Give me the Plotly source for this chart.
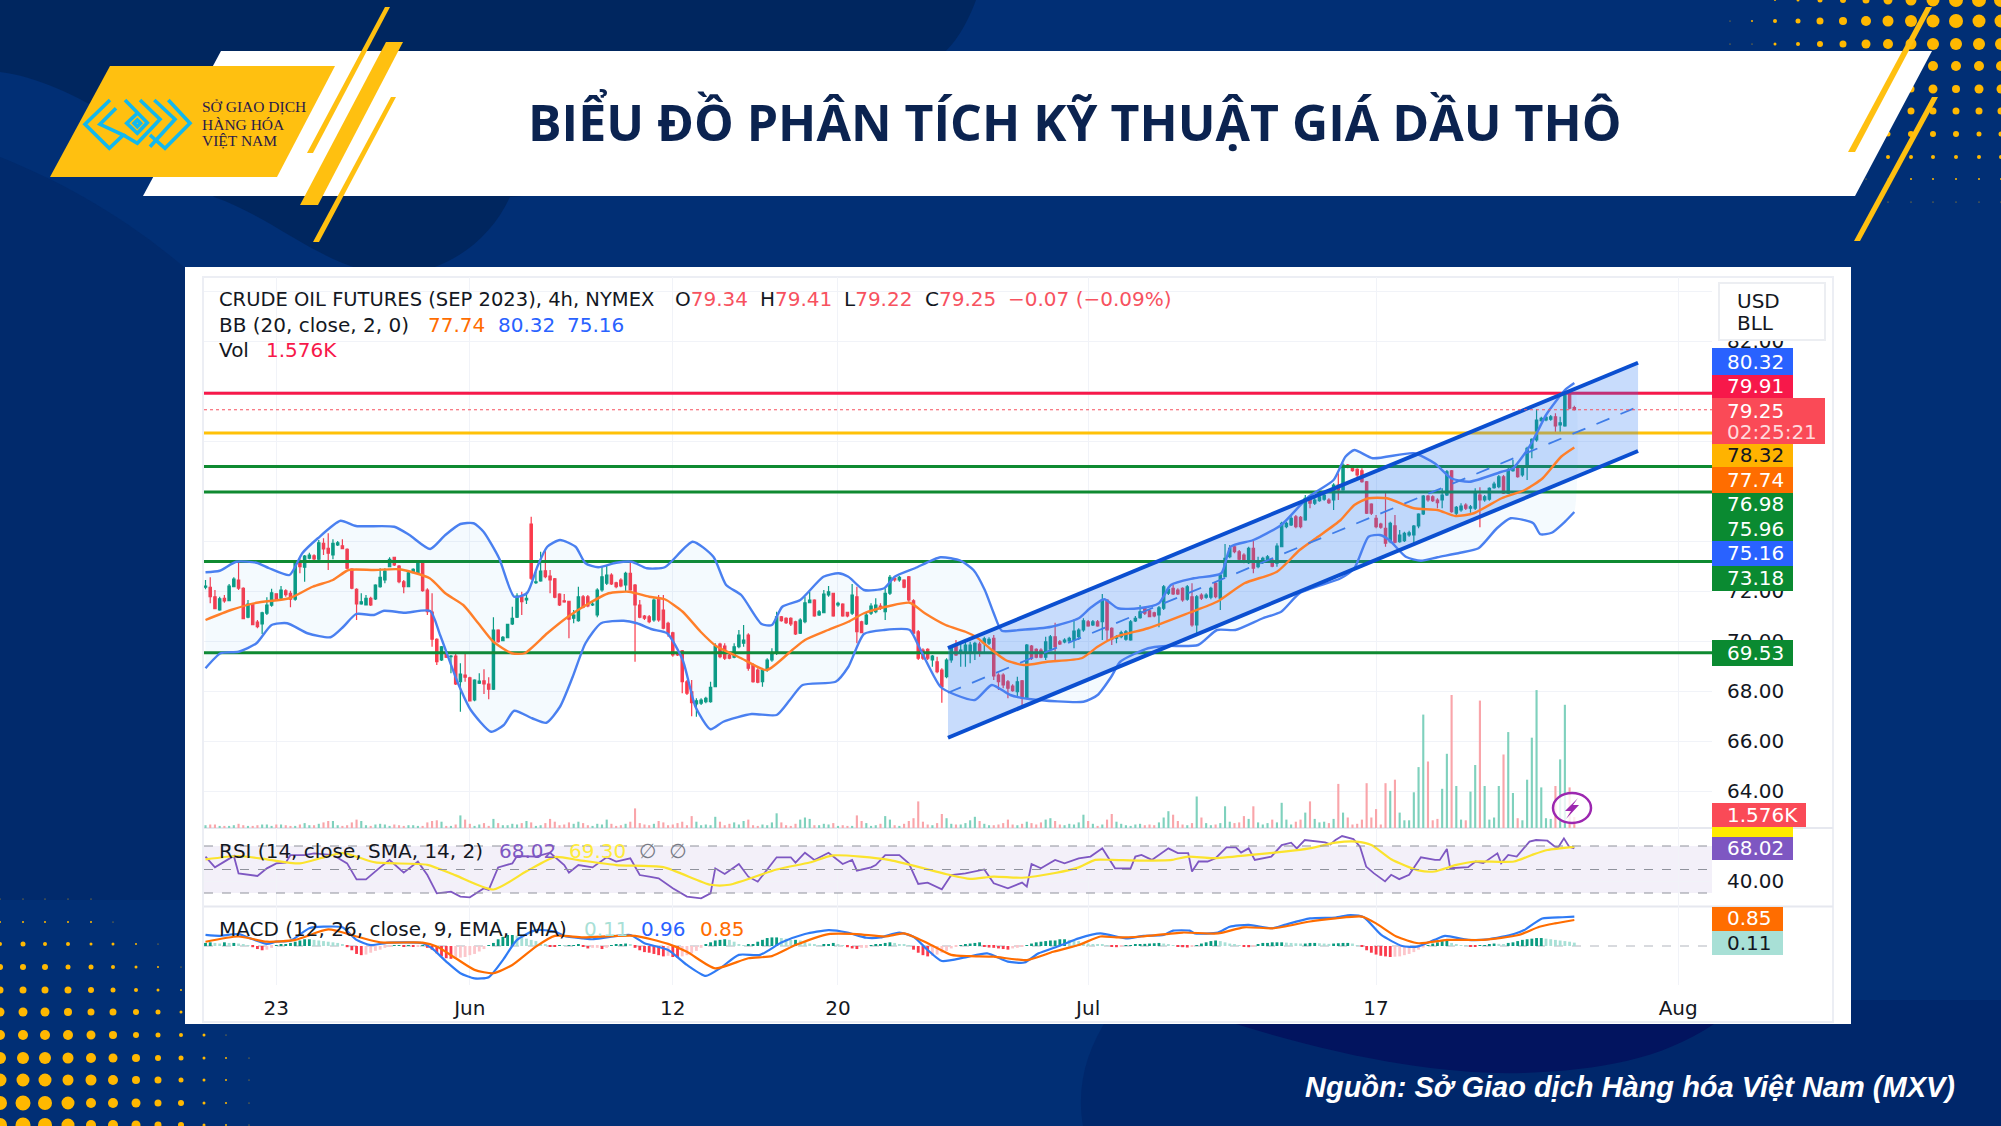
import plotly.graph_objects as go
import re

# ---------- chart data ----------
opens = [72.15,72.15,71.77,71.24,71.71,71.61,72.17,72.44,72.11,70.95,
71.48,70.76,70.68,71.11,71.43,71.89,71.71,72.01,71.91,71.67,
73.17,72.95,73.31,73.41,73.27,73.91,73.71,73.44,73.84,73.81,
73.67,72.88,72.07,71.48,71.44,71.71,71.68,72.17,72.44,72.97,
73.35,73.0,72.37,72.17,72.73,72.73,73.13,72.04,71.16,70.07,
69.24,69.57,69.37,69.4,68.37,68.64,68.53,67.64,68.31,68.41,
68.28,68.07,70.44,70.01,70.13,70.68,70.95,71.77,71.64,74.68,
72.33,72.4,72.81,72.6,72.49,71.88,71.61,71.59,
70.91,70.81,71.77,71.77,71.44,71.04,72.04,72.31,72.64,72.33,72.44,72.24,72.71,72.24,71.44,71.0,70.97,70.84,71.67,71.24,70.71,70.33,
69.53,69.61,68.37,67.97,67.48,67.51,67.57,67.57,68.17,69.88,69.8,69.44,69.35,69.77,69.91,70.24,69.04,68.84,68.37,68.87,
69.24,69.51,70.97,70.91,70.91,70.77,70.31,70.77,71.53,71.64,71.04,71.13,71.84,71.91,71.44,71.48,71.15,71.11,71.77,70.77,
70.68,71.11,71.17,71.4,71.17,71.91,72.51,72.44,72.44,72.57,71.61,70.37,69.64,69.67,69.24,69.17,68.84,68.57,
69.24,69.84,69.51,69.51,69.51,69.57,69.88,69.91,69.91,70.11,68.64,68.64,68.37,68.2,67.97,68.41,67.71,69.8,69.67,69.64,
69.35,69.67,70.17,69.97,69.96,70.0,70.04,70.17,70.44,70.77,70.64,70.77,70.77,71.64,70.51,70.11,70.17,70.07,70.04,70.8,
70.93,71.31,71.21,71.13,71.04,71.31,71.91,72.11,72.04,72.11,71.67,71.77,70.64,71.84,71.75,71.75,72.31,71.71,72.57,73.37,
73.77,73.57,73.44,73.13,73.71,72.97,73.17,73.24,73.24,73.11,
73.77,74.57,74.64,74.97,74.95,74.84,75.71,75.51,75.61,75.67,75.64,75.64,76.24,76.04,77.04,76.95,76.87,76.81,76.37,75.48,
74.91,74.68,74.51,73.97,74.61,73.97,74.01,74.24,74.24,74.6,75.08,75.8,75.77,75.64,75.64,75.84,76.81,75.11,75.24,75.44,
75.31,75.31,75.84,75.64,75.67,76.13,76.17,76.57,75.91,76.81,76.97,76.64,76.95,77.71,78.04,78.81,78.84,78.87,78.97,78.64,
78.6,79.88,79.34]
highs = [72.44,72.55,72.04,71.77,71.84,72.28,72.55,73.17,72.15,71.64,
71.51,70.84,71.17,71.75,72.09,71.91,72.2,72.07,72.01,73.17,
73.31,73.44,73.53,73.47,74.04,74.11,74.31,74.07,74.0,74.07,
73.71,72.91,72.11,71.91,71.84,71.77,72.27,72.91,72.91,73.35,
73.37,73.04,72.44,72.81,72.91,73.13,73.17,72.11,71.91,70.11,
69.8,69.64,69.44,69.48,69.11,69.48,68.57,68.47,68.71,68.87,
68.55,70.95,70.47,70.2,70.68,71.37,71.91,71.97,71.97,74.97,
72.77,73.57,73.64,72.84,72.52,71.91,71.88,71.61,
71.24,72.17,71.84,71.84,71.57,72.11,72.97,73.04,72.71,72.37,72.51,72.77,73.17,72.28,71.64,71.04,71.04,71.71,71.84,71.84,70.77,70.37,
69.57,69.64,68.44,68.44,67.71,67.71,67.77,68.37,69.91,69.93,69.91,69.51,69.91,70.44,70.64,70.31,69.11,68.91,68.91,69.31,
69.71,71.17,71.0,70.95,70.95,70.81,70.91,71.77,71.97,71.67,71.24,72.04,72.2,71.93,71.57,71.51,71.17,72.28,72.17,70.81,
71.17,71.51,71.71,71.51,72.11,72.64,72.6,72.6,72.47,72.6,71.67,70.44,69.71,69.71,69.44,69.37,68.91,69.31,
69.77,70.04,69.91,69.97,69.97,69.97,69.97,70.17,70.15,70.24,68.71,68.71,68.44,68.27,68.57,68.44,69.88,69.84,69.71,69.71,
70.17,70.24,70.73,70.04,70.11,70.17,70.87,70.51,70.91,70.84,70.84,70.84,71.88,71.67,70.55,70.24,70.41,70.44,70.84,71.0,
71.44,71.37,71.27,71.17,71.4,72.24,72.17,72.24,72.11,72.15,72.24,72.31,71.84,71.91,71.91,72.17,72.37,72.71,73.88,73.84,
73.84,73.64,73.51,73.77,74.07,73.37,73.37,73.44,73.31,73.91,
74.77,74.77,75.0,75.04,75.0,75.84,75.84,75.75,75.84,75.91,75.71,76.31,76.71,77.11,77.08,77.0,76.91,76.91,76.4,75.51,
75.04,74.73,75.97,74.77,75.04,74.44,74.37,74.41,74.64,75.11,75.84,75.84,75.83,75.71,76.11,76.84,76.84,75.4,75.51,75.51,
75.44,76.11,76.15,75.84,76.15,76.37,76.64,76.64,77.04,77.24,77.04,77.04,77.77,78.11,79.27,78.97,79.0,79.04,79.11,78.97,
79.93,79.91,79.41]
lows = [72.07,71.51,71.27,71.21,71.53,71.6,72.15,72.04,70.87,70.91,
70.63,70.51,70.28,71.04,71.37,71.61,71.68,71.77,71.35,71.61,
72.71,72.37,73.27,73.24,73.21,73.44,72.84,73.27,73.8,73.67,
72.87,72.07,70.84,71.45,71.43,71.4,71.64,72.13,72.31,72.95,
73.0,72.31,71.91,72.15,72.71,72.68,71.97,71.04,69.77,69.04,
69.2,69.32,68.71,68.24,67.17,68.37,67.59,67.59,68.28,67.88,
67.67,68.04,69.93,69.99,70.11,70.64,70.92,71.04,71.48,72.44,
72.28,72.37,72.51,71.91,71.71,71.4,71.53,70.11,
70.71,70.77,71.31,71.35,71.4,70.95,71.97,72.24,72.24,72.11,72.15,71.97,72.01,69.17,70.91,70.84,70.71,70.77,70.77,70.47,70.17,69.37,
69.4,67.91,67.84,66.99,66.97,67.44,67.51,67.53,68.15,69.31,69.24,69.27,69.31,69.71,69.77,68.81,68.33,68.31,68.17,68.77,
69.17,69.44,70.77,70.68,70.6,70.24,70.28,70.71,71.51,70.97,71.0,71.11,71.77,70.97,71.37,70.97,70.95,71.04,69.91,70.31,
70.64,71.04,71.11,71.24,70.84,71.84,72.37,72.37,72.11,71.57,70.24,69.24,69.24,69.24,68.97,68.71,67.53,68.51,
69.13,69.4,68.97,68.97,69.11,69.24,69.37,69.51,69.84,68.44,68.04,68.11,67.71,67.97,67.77,67.37,67.67,69.24,69.31,69.31,
69.24,69.61,69.17,69.84,69.91,69.96,69.71,70.04,70.37,70.57,70.6,70.57,70.04,70.04,69.84,69.91,70.11,70.01,70.01,70.76,
70.89,71.04,70.95,70.95,70.55,71.24,71.84,71.84,71.84,71.57,71.61,70.57,70.31,71.64,71.69,71.67,71.71,71.24,72.55,73.31,
73.51,73.21,73.11,73.08,72.71,72.91,73.08,73.17,72.95,72.97,
73.75,74.51,74.6,74.51,74.51,74.81,75.31,75.44,75.57,75.61,75.48,75.24,75.64,76.01,76.91,76.77,76.44,76.33,75.08,75.04,
74.51,74.49,73.77,73.91,73.91,73.93,73.96,74.17,73.84,74.51,75.04,75.57,75.56,75.31,75.31,75.8,75.13,75.04,75.17,75.24,
75.13,75.24,74.55,75.57,75.61,76.09,76.11,75.88,75.88,76.77,76.53,76.57,76.44,77.31,77.97,78.77,78.79,78.81,78.31,78.31,
78.57,79.27,79.22]
closes = [72.2,71.77,71.29,71.69,71.6,72.2,72.48,72.11,70.89,71.48,
70.65,70.57,71.13,71.44,71.93,71.67,72.04,71.85,71.67,73.11,
72.97,73.4,73.44,73.28,73.93,73.68,73.51,73.91,73.93,73.69,
72.91,72.11,71.48,71.57,71.71,71.44,72.24,72.55,72.8,73.27,
73.04,72.37,72.17,72.73,72.87,73.11,72.01,71.17,70.07,69.17,
69.77,69.35,69.4,68.28,68.68,68.55,67.6,68.44,68.4,68.28,
68.07,70.44,69.97,70.15,70.67,70.91,71.8,71.57,71.71,72.51,
72.37,72.8,72.57,72.44,71.75,71.44,71.56,70.87,
71.04,71.77,71.35,71.4,71.48,72.04,72.57,72.64,72.28,72.17,72.2,72.71,72.04,71.44,70.95,70.91,70.77,71.64,70.84,70.51,70.31,69.44,
69.44,68.37,67.91,67.53,67.61,67.64,67.71,68.15,69.8,69.37,69.31,69.31,69.77,70.24,70.04,68.91,68.37,68.35,68.84,69.24,
69.51,70.97,70.81,70.73,70.68,70.28,70.84,71.53,71.64,71.0,71.17,71.88,71.97,71.0,71.51,71.0,71.0,71.84,70.37,70.33,
71.04,71.4,71.44,71.31,71.91,72.55,72.44,72.55,72.15,71.64,70.31,69.31,69.31,69.31,69.4,68.77,68.17,69.24,
69.71,69.44,69.64,69.84,69.84,69.91,69.51,70.09,70.07,68.6,68.37,68.24,68.11,68.01,68.37,67.71,69.84,69.31,69.35,69.35,
69.97,70.17,69.77,69.88,70.04,70.11,70.4,70.44,70.81,70.6,70.77,70.6,71.64,70.44,70.07,70.17,70.33,70.37,70.77,70.91,
71.17,71.11,70.97,71.0,71.33,72.17,72.07,71.88,71.88,71.64,72.17,70.64,71.77,71.71,71.84,72.11,71.77,72.64,73.31,73.71,
73.57,73.27,73.17,73.71,72.91,73.17,73.31,73.37,72.99,73.8,
74.71,74.71,74.91,74.57,74.57,75.71,75.51,75.64,75.77,75.84,75.53,76.24,76.04,77.04,76.95,76.81,76.64,76.37,75.11,75.11,
74.57,74.55,73.91,74.71,73.95,74.24,74.31,74.33,74.6,75.08,75.8,75.64,75.61,75.53,75.84,76.77,75.17,75.35,75.4,75.31,
75.37,75.97,75.64,75.77,76.11,76.28,76.57,75.91,76.84,76.95,76.57,76.97,77.71,78.07,78.84,78.91,78.95,78.97,78.6,78.73,
79.88,79.31,79.25]
volumes = [.4,.5,.5,.3,.3,.3,.4,.6,.4,.3, .3,.4,.5,.5,.3,.5,.5,.4,.3,.3,
.5,.7,.4,.4,.6,.8,1,1,.4,.3, .4,.8,1.2,1,.4,.3,.5,.6,.5,.3,
.5,.4,.3,.4,.4,.3,.3,.8,1,1.1, .9,.3,.3,.5,1.8,1.2,.6,.3,.5,.7,
.3,1.3,.7,.4,.4,.6,.5,.7,1,.8, .3,.4,.7,1.3,.9,.4,.5,.8,.6,.9,
.7,.4,.3,.6,.5,1.2,.6,.3,.4,.6, .9,2.8,.7,.5,.4,.6,1,.8,.4,.5,
.7,.9,.4,1.7,.9,.4,.5,.4,1.6,.9, .4,.6,.8,.5,1,1.2,.4,.3,.5,.4,
.8,2.1,.8,.4,.3,.6,1.2,1.5,1.3,.4, .4,.6,.5,.7,.3,.4,.3,.3,1.8,1,
.7,.3,.4,.6,1.7,1.2,.4,.3,.6,1, 1.4,3.8,.9,.5,.4,.7,2,1.4,.6,.5,
.5,.7,1.1,1.6,1,.6,.4,.4,.5,.7, 1.2,.5,.4,.6,.9,.7,.5,.8,1.2,1.4,
1,.5,.4,.6,.5,.8,1.9,1,.6,.3, .5,1.2,2,.9,.6,.4,.3,.5,.6,.4,
.5,.4,.8,1.5,2.4,1.9,1,.5,.4,.7, 4.5,1.5,.7,.4,.5,.7,3.1,.9,.7,.8,
1.7,1.3,3.1,.8,.5,.7,1.2,.8,3.6,1.2, .5,.9,1.2,2.2,3.8,1.3,.8,.9,.7,1.3,
6.3,2.2,1.5,.5,.6,1.2,6.4,1.5,2.7,.5, 6.4,5.3,6.9,2.2,1.1,1.1,5.1,8.7,16.2,9.5,
1.1,1.3,5.6,10.6,19,6,1.2,1.1,5.2,9, 18.2,6,1.2,1.5,6,10.5,13.7,5,1.4,1.1,
6.9,12.9,19.7,5.8,1.4,1.3,6,9.8,17.6,5.8, 1.576]

bb_up_i = [0,3,6.5,10.8,13.5,17.8,20.5,23.8,28.6,31.9,40,43.2,47.6,50.8,54,56.8,58.9,62.2,65.4,68.1,70.3,72.4,75.1,78.4,80.5,83.2,87,90.3,93.5,97.3,103.2,107.6,110.3,113.5,117.8,120,122.2,126,130.9,134.1,136.2,139.5,143.8,146,150.3,155.7,160,162.7,165.1,167,168.7,172.4,179.2,185,187.4,190.4,193.3,197.7,202,204.5,209.4,215.2,217.2,222,227.9,233.7,239,241.5,243.4,247.3,256,260.4,263.9,267.8,274.6,277,279.5,281.3,284,286.3,288,290]
bb_up = [72.75,72.81,73.17,73.13,72.91,72.64,73.51,74.11,74.81,74.6,74.57,74.24,73.68,74.24,74.68,74.71,74.37,73.31,71.77,71.91,72.97,73.77,74.04,73.77,73.11,72.95,73.13,73.17,72.91,72.95,73.97,73.37,72.24,71.84,70.68,70.64,71.37,71.64,72.57,72.71,72.57,72.04,72.11,72.57,72.91,73.35,73.21,72.84,72.04,71.11,70.41,70.44,70.57,70.91,71.31,71.67,71.31,71.31,71.51,72.24,72.51,72.71,73.77,74.04,74.64,75.77,76.44,77.37,77.64,77.31,77.51,77.11,76.51,76.37,76.77,76.91,77.5,78.04,79.04,79.64,80.04,80.32]
bb_lo_i = [0,3.2,7,10.8,14,17.3,21.6,26.5,29.2,31.9,35.7,37.8,42.2,47.6,49.7,53.5,56.2,60.5,63.2,65.4,69.2,72.2,75.1,77.8,80.5,83.8,88.6,91.4,94.6,97.8,101.1,103.8,107,109.7,115.7,121,123.8,126.5,133.5,136.2,139.5,143.8,149.2,150.8,155.7,159,163,166.6,170.5,174.9,186,189,191.9,193.8,199.7,203.6,210.3,214.3,218.2,224,227.9,231.8,240.5,243.4,246.4,248.8,250.8,254.3,257.5,261,265.8,269.7,273.6,276.5,281.3,282.8,285.2,288,290]
bb_lo = [68.91,69.51,69.57,69.91,70.64,70.71,70.31,70.15,70.57,71.08,71.04,71.21,71.13,71.2,70.24,68.31,67.24,66.37,66.64,67.21,66.91,66.73,67.37,68.57,69.91,70.71,70.81,70.71,70.47,70.31,69.24,67.37,66.47,66.77,67.08,67.04,67.64,68.24,68.37,68.97,70.28,70.44,70.44,69.91,68.17,67.84,67.64,68.24,67.84,67.67,67.57,67.84,68.57,69.17,69.71,69.8,69.84,70.44,70.44,70.91,71.17,71.91,72.51,72.91,74.17,74.24,74.04,73.37,73.21,73.35,73.53,73.71,74.51,74.91,74.71,74.27,74.33,74.77,75.16]
bb_mid_i = [0,5.4,10.8,17.8,22.7,27,30.3,35.7,41.1,47.5,50.8,54.6,57.8,61,64.9,67.6,72.4,76.8,81,85.4,89.7,94,97.3,101.1,104.9,108.1,113.5,118.9,124.3,127,131.9,136.2,139.5,144.9,149.2,152.4,156.8,161,163.2,166.6,169.5,173.4,178.3,185.6,189,192.9,199.7,208.4,214.3,220.1,227,231.8,235.7,240.5,243.4,246.4,250.3,256,261,264.8,268.7,274.6,279.5,283.3,287.2,290]
bb_mid = [70.84,71.24,71.53,71.71,72.17,72.44,72.84,72.84,72.87,72.51,71.91,71.44,70.71,69.97,69.51,69.51,70.31,70.97,71.48,71.91,71.97,71.77,71.67,71.17,70.37,69.81,69.31,68.84,69.64,70.04,70.44,70.77,71.11,71.4,71.53,71.11,70.64,70.37,70.17,69.64,69.24,69.04,69.17,69.31,69.77,70.17,70.51,71.13,71.57,72.31,72.77,73.64,74.17,74.84,75.44,75.71,75.71,75.31,75.24,75,75.11,75.71,76.04,76.51,77.37,77.74]

rsi_i = [0,2,4,6,7,9,11,13,15,17,18,21,23,27,30,32,34,37,39,42,45,47,49,52,54,56,59,60,62,65,66,70,73,76,77,79,82,85,87,90,92,94,96,99,102,105,107,108,110,113,115,117,121,124,125,127,129,132,135,137,138,141,142,144,147,149,151,153,156,158,161,165,167,170,173,174,175,177,180,182,185,187.5,190,192.7,196,197,198.3,200.5,204,206,208.2,209,210.4,212.3,214,216.3,218.3,219.4,221,222.3,225.8,228,230,231.2,232.9,237.2,238.3,239.4,240.8,243.2,244.6,245.9,247.5,249.9,251.2,252.9,255,257.5,260.5,261.5,263,263.7,267.5,269.1,270.7,273.7,274.5,276,277.8,280.5,281.9,284.3,285.9,286.6,287.8,288.9,290]
rsi = [60.9,51.8,56.7,61.5,46.7,45.3,44.5,51,55.2,55.8,62.3,62.3,63.8,62.3,55.2,41.6,41.6,51.8,58.1,47.3,56.7,45.3,29.7,31.1,26.9,26.3,34,32.6,51.8,55.2,61.5,60.9,64.3,53.8,47.3,53.8,51.8,60.4,56.7,59.5,45.3,43.9,42.5,34,26.9,25.5,29.7,51,46.2,54.7,43.9,39.6,60.4,60.4,55.8,64.3,58.1,64.3,54.7,58.1,49,51.8,53.8,62.3,62.3,55.2,37.7,38.8,33.1,45.3,46.7,50.1,38.2,34,38.8,35.4,54.7,51,58.1,55.2,59.5,61,68,51,51,61,62.4,58.2,68,64,64,48.3,56.8,56.8,59.6,68.9,68.9,64.4,68,58.2,61,70.8,72.8,68,75.1,73.1,71.4,75.1,78.5,75.9,69.4,52.5,46.9,39.9,45.5,41.8,45.5,60.4,58.2,58.2,67.5,51.1,52,56.8,55.4,63.8,55.4,62.4,61,73.7,75.1,74.5,69.4,68.9,76.5,69.4,68.02]
rsi_ma_i = [0,7,13,20,29,36,47,53,61,68,74,79,87,97,107,111,121,128,133,145,157,162,167,173,180,185,188.5,192,198.3,204.8,208.2,213.4,221.5,228.5,233.9,239.4,243.8,247,251.2,257,260.4,265,269,277.2,281,284.3,290]
rsi_ma = [58.6,61.5,58.6,55.2,64,56,54,45,33,48.5,60.6,58,53.8,52,37,37,50,56,62,58,46,42,44,43,47,51.8,58.2,58.2,57.6,58.2,61,59.6,62.4,65.2,68,72.8,73.7,70.8,58.7,49.2,48.3,53.9,56.8,56.8,62.4,66.6,69.3]
macd_i = [0,3,7,10,13,15,18,22,25,29,32,35,39,46,48,51,54,57,60,63,66,70,74,76,80,82,85,90,93,98,102,106,109,113,117.5,122,127,132,136,140,143,147,150,153,156,161,165.6,170,173.5,176.5,181,185,189.6,195,198.8,203,205,208.5,209.6,214.5,217,221,226,228.6,234,239.4,242.6,245.4,249.1,253.5,256.7,260.4,262.6,267.5,271.8,277.2,279.4,283.2,287.5,290]
macd = [.36,.33,.39,.22,.07,.14,.17,.58,.63,.61,.2,.03,.11,.09,-.08,-.51,-.89,-1.06,-1.02,-.46,.2,.52,.47,.33,.25,.22,.28,.36,.09,-.13,-.62,-.98,-.73,-.29,-.29,.11,.39,.52,.44,.27,.28,.44,.3,-.13,-.49,-.37,-.24,-.51,-.54,-.24,.01,.25,.41,.25,.33,.36,.5,.5,.41,.44,.63,.69,.58,.69,.9,.93,1.01,.94,.36,0,-.02,.2,.33,.2,.22,.39,.52,.9,.94,.96]
signal_i = [0,7,13,19,26,32,37,46,49,53,57,61,65,70,74,80,91,98,102,108,115,120,125,132,138,144,148,153,158,162,167,174,179.6,185,189.6,193,198.3,207,214.5,220,226.4,234,239.4,245,248,252.3,257,263,270.7,278.2,282.6,285.9,290]
signal = [.14,.31,.14,.2,.54,.31,.12,.11,-.02,-.4,-.78,-.89,-.62,-.02,.33,.28,.33,.07,-.19,-.73,-.4,-.33,.03,.39,.39,.31,.41,.09,-.29,-.33,-.35,-.46,-.19,.03,.31,.28,.31,.44,.41,.61,.58,.8,.9,.96,.74,.31,.09,.2,.2,.36,.63,.74,.85]
hist = [.1,.12,.1,.08,.12,.1,.1,.08,.06,.02, -.04,-.1,-.14,-.12,-.06,.02,.04,.06,.1,.14,
.18,.22,.22,.2,.18,.16,.14,.12,.1,.06, -.04,-.14,-.26,-.3,-.28,-.22,-.16,-.12,-.06,-.02,
.02,.03,-.02,.02,-.03,-.02,.02,-.06,-.12,-.24, -.34,-.4,-.42,-.4,-.38,-.36,-.3,-.26,-.18,-.1,
.02,.1,.22,.3,.36,.36,.34,.3,.24,.2, .16,.1,.04,-.02,-.03,.03,.02,.02,.03,.05,
-.03,-.08,-.06,-.06,-.1,-.06,.03,.04,.06,.08, .05,-.06,-.14,-.2,-.22,-.26,-.3,-.34,-.32,-.36,
-.38,-.34,-.3,-.24,-.16,-.06,.04,.12,.18,.2, .22,.2,.14,.06,.03,.04,.06,.14,.2,.26,
.28,.28,.26,.24,.2,.2,.18,.14,.08,.04, .02,.04,.06,.1,.06,.02,-.04,-.08,-.1,-.06,
-.06,.03,.04,.06,.1,.12,.1,.06,.04,.03, -.12,-.22,-.3,-.34,-.32,-.28,-.22,-.16,-.08,-.02,
.02,.04,.08,.1,.12,-.03,-.05,-.06,-.08,-.1, -.12,-.08,-.06,-.03,.02,.08,.12,.14,.16,.18,
.18,.22,.22,.2,.18,.16,.1,.08,.06,.05, .04,.02,-.02,-.04,-.03,.02,.03,.05,.06,.07,
.08,.09,.1,.08,.05,.03,-.02,-.04,-.05,-.03, .03,.08,.12,.16,.18,.16,.12,.08,.06,.03,
-.02,-.04,-.03,.06,.1,.1,.12,.12,.12,.11, .1,.09,.08,.08,.1,.1,.09,.08,.07,.08,
.09,.1,.1,.08,.03,-.02,-.14,-.22,-.28,-.32, -.34,-.36,-.35,-.34,-.3,-.26,-.2,-.12,-.05,.03,
.08,.12,.16,.18,.1,.06,.03,.02,-.02,-.03, .02,.03,.06,.08,.07,.06,.1,.12,.16,.2,
.22,.24,.26,.26,.24,.22,.2,.18,.16,.14, .11]

levels_green = [76.98, 75.96, 73.18, 69.53]
level_red = 79.91
level_yellow = 78.32
last_price = 79.25
channel_i = [157.3, 303.5]
channel_top = [69.72, 81.13]
channel_mid = [67.93, 79.37]
channel_bot = [66.13, 77.6]
x_ticks = [15, 56, 99, 134, 187, 248, 312]
x_labels = ["23", "Jun", "12", "20", "Jul", "17", "Aug"]
price_ticks = [64,66,68,70,72,74,76,78,80,82,84]
price_labels = ["64.00","66.00","68.00","70.00","72.00","","","","","82.00",""]

assert len({len(opens),len(highs),len(lows),len(closes),len(volumes),len(hist)})==1
bars = list(range(len(closes)))

# ---------- pixel helpers for the page furniture ----------
W, H = 2001, 1126
def X(x): return x / W
def Y(y): return 1 - y / H
def path(d):
    toks = re.findall(r"[MLCZ]|-?\d+\.?\d*", d); out=[]; isx=True
    for t in toks:
        if t in "MLCZ": out.append(t); isx=True
        else:
            out.append(f"{X(float(t)):.5f}" if isx else f"{Y(float(t)):.5f}"); isx=not isx
    return " ".join(out)
def pshape(d, fill=None, line=None, w=0, layer="below"):
    return dict(type="path", path=path(d), xref="paper", yref="paper", fillcolor=fill or "rgba(0,0,0,0)",
                line=dict(color=line or "rgba(0,0,0,0)", width=w), layer=layer)
def rect(x0,y0,x1,y1,fill,layer="above",line=None,w=0):
    return dict(type="rect", xref="paper", yref="paper", x0=X(x0), x1=X(x1), y0=Y(y0), y1=Y(y1), fillcolor=fill,
                line=dict(color=line or "rgba(0,0,0,0)", width=w), layer=layer)
def ann(x,y,text,size=18,color="#131722",anchor="left",family="DejaVu Sans"):
    return dict(xref="paper",yref="paper",x=X(x),y=Y(y),text=text,showarrow=False,xanchor=anchor,yanchor="middle",
                font=dict(family=family,size=size,color=color),align="left")
def dots(xs, rows):
    out=[]
    for y,(start,sizes) in rows.items():
        for k,d in enumerate(sizes):
            if d:
                cx=xs[start+k]
                out.append(dict(type="circle",xref="paper",yref="paper",x0=X(cx-d/2),x1=X(cx+d/2),y0=Y(y+d/2),y1=Y(y-d/2),
                                fillcolor="#ffb800",line=dict(width=0),layer="below"))
    return out

YEL = "#ffc010"
shapes = [
    pshape("M0,0 L976,0 C965,30 950,50 940,55 L600,190 L510,197 C490,240 450,270 400,275 C330,275 280,220 214,197 C170,150 70,80 0,72 Z","#00265f"),
    pshape("M0,157 C70,185 140,225 210,290 L185,900 L0,900 Z","#012a6c"),
    pshape("M1083,1126 C1075,1080 1090,1040 1120,1000 L2001,1000 L2001,1126 Z","#00276b"),
    pshape("M1236,1024 C1350,1060 1450,1075 1523,1073 C1600,1070 1660,1060 1714,1024 Z","#02145f"),
]
# decorative dot fields
shapes += dots([1730,1752,1775,1798,1820,1843,1866,1888,1911,1933,1956,1979,2001],{
    0:(2,[2,3,5,6,7,9,11,13,14,14,14]), 21:(0,[1,2,4,5,7,8,10,11,12,13,14,13,13]),
    44:(0,[1,1,3,4,6,7,9,10,11,12,12,12,12]), 66:(9,[10,10,10,10]), 89:(8,[7,9,8,9,9]),
    111:(8,[7,7,7,7,7]), 134:(7,[5,6,6,6,5,5]), 157:(7,[4,4,4,4,4,4]), 179:(6,[1,1,2,2,2,2,2]), 202:(7,[1,1,1,1,1,1])})
shapes += dots([0,23,45,68,91,113,136,158,181,204,226,249],{
    899:(0,[1,1,1,1,1]), 922:(0,[2,2,2,2,2,1]), 944:(0,[4,5,4,4,3,3,2,1]), 967:(0,[6,6,6,5,5,4,3,2,1]),
    990:(0,[7,7,7,7,6,5,4,3,2]), 1012:(0,[9,9,9,8,7,7,6,5,3]), 1035:(0,[10,10,10,10,9,8,6,5,4,3,1]),
    1058:(0,[12,12,12,11,10,9,8,6,5,3,2,1]), 1080:(0,[13,13,13,11,11,10,8,7,5,3,2,1]),
    1103:(0,[14,15,14,13,10,10,9,7,6,3,2,1]), 1125:(0,[14,15,14,13,10,10,9,7,6,3,2,1])})
shapes += [
    pshape("M221,51 L1932,51 L1855,196 L143,196 Z","#ffffff"),
    pshape("M110,66 L335,66 L277,177 L50,177 Z",YEL),
    pshape("M386,42 L403,42 L318,205 L300,205 Z",YEL),
    pshape("M385,7 L390,7 L313,153 L307,153 Z",YEL),
    pshape("M391,97 L396,97 L319,242 L313,242 Z",YEL),
    pshape("M1926,7 L1932,7 L1855,152 L1848,152 Z",YEL),
    pshape("M1932,97 L1938,97 L1860,241 L1854,241 Z",YEL),
]
# logo mark
for d in ["M110,100 L85,124.3 L109.3,148.3 L123.3,135 L100,124.3 L116,108.3",
          "M125,100 L147.3,122.7 L137.3,133.3 L126.7,123.3 L137.3,113.3",
          "M140,100 L160,119.3 L137.3,143.3 L123.3,135",
          "M154.3,100 L175,119.3 L150,146.7",
          "M168.3,100 L190,123.3 L165,148.3 L150,135",
          "M137.3,120 L140.5,123.3 L137.3,126.6 L134,123.3 Z"]:
    shapes.append(pshape(d,None,"#12b8ee",3.6))
# chart panel
shapes += [
    rect(185,267,1851,1024,"#ffffff","below"),
    rect(203,277,1833,1022,"rgba(0,0,0,0)","below","#eceef4",2),
    dict(type="line",xref="paper",yref="paper",x0=X(204),x1=X(1833),y0=Y(828),y1=Y(828),line=dict(color="#e6e8ef",width=2),layer="below"),
    dict(type="line",xref="paper",yref="paper",x0=X(204),x1=X(1833),y0=Y(906.5),y1=Y(906.5),line=dict(color="#e6e8ef",width=2),layer="below"),
    dict(type="rect",xref="paper",yref="y3",x0=X(204),x1=X(1712),y0=30,y1=70,fillcolor="rgba(126,87,194,0.09)",line=dict(width=0),layer="below"),
]
for v in [70,50,30]:
    shapes.append(dict(type="line",xref="paper",yref="y3",x0=X(204),x1=X(1712),y0=v,y1=v,line=dict(color="#8f929c",width=1.1,dash="dash"),layer="above"))
shapes.append(dict(type="line",xref="paper",yref="y4",x0=X(204),x1=X(1712),y0=0,y1=0,line=dict(color="#b2b5be",width=1.2,dash="dash"),layer="below"))
shapes.append(dict(type="line",xref="paper",yref="y",x0=X(204),x1=X(1712),y0=last_price,y1=last_price,line=dict(color="#f7525f",width=1,dash="dot"),layer="above"))
# price tags
tags = [(348,375,1793,"#2962ff"),(375,398,1793,"#f7184a"),(444,467,1793,"#ffb300"),(467,493,1793,"#ff6d00"),
        (493,518,1793,"#0a8a31"),(518,541,1793,"#0a8a31"),(541,566,1793,"#2962ff"),(566,591,1793,"#0a8a31"),(640,666,1793,"#0a8a31"),
        (398,444,1825,"#fa4a57"),(827,837,1793,"#ffeb00"),(803,827,1806,"#fa4a57"),(837,860,1793,"#7e57c2"),(907,931,1783,"#ff6d00"),(931,955,1783,"#a8e0d6")]
for y0,y1,x1,c in tags: shapes.append(rect(1712,y0,x1,y1,c))
shapes.append(dict(type="rect",xref="paper",yref="paper",x0=X(1719),x1=X(1825),y0=Y(283),y1=Y(340),fillcolor="#ffffff",line=dict(color="#eceef2",width=2),layer="above"))
shapes.append(dict(type="circle",xref="paper",yref="paper",x0=X(1553),x1=X(1591),y0=Y(793),y1=Y(823),fillcolor="rgba(255,255,255,0.8)",line=dict(color="#9c27b0",width=2.5),layer="above"))
shapes.append(pshape("M1578,798 L1565,811 L1571,811 L1566,819 L1579,805 L1573,805 Z","#9c27b0",layer="above"))

T = 20
annotations = [
    ann(1075,122,"<b>BIỂU ĐỒ PHÂN TÍCH KỸ THUẬT GIÁ DẦU THÔ</b>",50,"#0b2350","center","Open Sans"),
    ann(200,107,"SỞ GIAO DỊCH",15.5,"#2a1a4a",family="Liberation Serif"),
    ann(200,124,"HÀNG HÓA",15.5,"#2a1a4a",family="Liberation Serif"),
    ann(200,141,"VIỆT NAM",15.5,"#2a1a4a",family="Liberation Serif"),
    ann(1957,1087,"<b><i>Nguồn: Sở Giao dịch Hàng hóa Việt Nam (MXV)</i></b>",29,"#ffffff","right","Liberation Sans"),
    ann(217,299,"CRUDE OIL FUTURES (SEP 2023), 4h, NYMEX",19.5),
    ann(673,299,"O<span style='color:#f7525f'>79.34</span>",T),
    ann(758,299,"H<span style='color:#f7525f'>79.41</span>",T),
    ann(842,299,"L<span style='color:#f7525f'>79.22</span>",T),
    ann(923,299,"C<span style='color:#f7525f'>79.25</span>",T),
    ann(1006,299,"−0.07 (−0.09%)",T,"#f7525f"),
    ann(217,325,"BB (20, close, 2, 0)",T),
    ann(426,325,"77.74",T,"#ff6d00"), ann(496,325,"80.32",T,"#2962ff"), ann(565,325,"75.16",T,"#2962ff"),
    ann(217,350,"Vol",T), ann(264,350,"1.576K",T,"#f7184a"),
    ann(217,851,"RSI (14, close, SMA, 14, 2)",T), ann(497,851,"68.02",T,"#7e57c2"), ann(567,851,"69.30",T,"#ffeb3b"),
    ann(637,851,"∅  ∅",T,"#787b86"),
    ann(217,929,"MACD (12, 26, close, 9, EMA, EMA)",T), ann(582,929,"0.11",T,"#a8e0d6"), ann(639,929,"0.96",T,"#2962ff"), ann(698,929,"0.85",T,"#ff6d00"),
    ann(1735,301,"USD",T), ann(1735,323,"BLL",T),
]
for y,t,c in [(362,"80.32","#fff"),(386,"79.91","#fff"),(411,"79.25","#fff"),(432,"02:25:21","#ffd9dc"),(455,"78.32","#131722"),(480,"77.74","#fff"),
              (504,"76.98","#fff"),(529,"75.96","#fff"),(553,"75.16","#fff"),(578,"73.18","#fff"),(653,"69.53","#fff"),
              (815,"1.576K","#fff"),(848,"68.02","#fff"),(918,"0.85","#fff"),(943,"0.11","#131722")]:
    annotations.append(ann(1725,y,t,T,c))

# ---------- traces ----------
fig = go.Figure()
BLUE, ORG = "#4a80f0", "#ff7f2a"
SP = dict(shape="spline", smoothing=0.6)
xr = [-0.32, 319.17]
for v,c in [(level_red,"#f7184a"),(level_yellow,"#ffc107")]+[(g,"#0f8a31") for g in levels_green]:
    fig.add_trace(go.Scatter(x=xr,y=[v,v],mode="lines",line=dict(color=c,width=3.2),showlegend=False,hoverinfo="skip"))
fig.add_trace(go.Scatter(x=bb_up_i+bb_lo_i[::-1],y=bb_up+bb_lo[::-1],mode="lines",fill="toself",fillcolor="rgba(33,150,243,0.05)",line=dict(width=0,**SP),showlegend=False,hoverinfo="skip"))
ci = channel_i
fig.add_trace(go.Scatter(x=ci+ci[::-1],y=channel_top+channel_bot[::-1],mode="lines",fill="toself",fillcolor="rgba(41,120,245,0.26)",line=dict(width=0),showlegend=False,hoverinfo="skip"))
fig.add_trace(go.Scatter(x=bb_up_i,y=bb_up,mode="lines",line=dict(color=BLUE,width=2.4,**SP),showlegend=False))
fig.add_trace(go.Scatter(x=bb_lo_i,y=bb_lo,mode="lines",line=dict(color=BLUE,width=2.4,**SP),showlegend=False))
fig.add_trace(go.Scatter(x=bb_mid_i,y=bb_mid,mode="lines",line=dict(color=ORG,width=2.4,**SP),showlegend=False))
fig.add_trace(go.Candlestick(x=bars,open=opens,high=highs,low=lows,close=closes,whiskerwidth=0,
    increasing=dict(line=dict(color="#0a9b80",width=1.2),fillcolor="#0a9b80"),
    decreasing=dict(line=dict(color="#fb3a4b",width=1.2),fillcolor="#fb3a4b"),showlegend=False))
for yv in (channel_top,channel_bot):
    fig.add_trace(go.Scatter(x=ci,y=yv,mode="lines",line=dict(color="#0b4fd0",width=4),showlegend=False))
fig.add_trace(go.Scatter(x=ci,y=channel_mid,mode="lines",line=dict(color="#3f7de8",width=1.8,dash="14px,12px"),showlegend=False))
fig.add_trace(go.Bar(x=bars,y=volumes,yaxis="y2",width=0.45,showlegend=False,
    marker=dict(color=["#7fd1bd" if c>=o else "#f9a5aa" for o,c in zip(opens,closes)],line=dict(width=0))))
fig.add_trace(go.Scatter(x=rsi_i,y=rsi,yaxis="y3",mode="lines",line=dict(color="#7e57c2",width=1.8),showlegend=False))
fig.add_trace(go.Scatter(x=rsi_ma_i,y=rsi_ma,yaxis="y3",mode="lines",line=dict(color="#fbe32d",width=2.2,**SP),showlegend=False))
hcol=[]
for k,v in enumerate(hist):
    prev=hist[k-1] if k else v
    if v>=0: hcol.append("#0a9b80" if v>=prev else "#a8e0d6")
    else: hcol.append("#fb3a4b" if v<prev else "#fcc6cb")
fig.add_trace(go.Bar(x=bars,y=hist,yaxis="y4",width=0.6,marker=dict(color=hcol,line=dict(width=0)),showlegend=False))
fig.add_trace(go.Scatter(x=macd_i,y=macd,yaxis="y4",mode="lines",line=dict(color="#2f7bf5",width=2.2,**SP),showlegend=False))
fig.add_trace(go.Scatter(x=signal_i,y=signal,yaxis="y4",mode="lines",line=dict(color="#ff6d00",width=2.2,**SP),showlegend=False))

GRID="#f1f3f8"
TF=dict(family="DejaVu Sans",size=T,color="#131722")
fig.update_layout(width=W,height=H,margin=dict(l=0,r=0,t=0,b=0),paper_bgcolor="#012f75",plot_bgcolor="rgba(0,0,0,0)",
    shapes=shapes,annotations=annotations,showlegend=False,barmode="overlay",
    xaxis=dict(domain=[X(204),X(1712)],range=xr,anchor="y4",tickmode="array",tickvals=x_ticks,ticktext=x_labels,showgrid=True,gridcolor=GRID,
               zeroline=False,showline=False,ticks="",tickfont=TF,ticklabelstandoff=9,rangeslider=dict(visible=False)),
    yaxis=dict(domain=[Y(828),Y(277)],range=[62.52,84.56],side="right",anchor="x",tickmode="array",tickvals=price_ticks,
               ticktext=price_labels,gridcolor=GRID,zeroline=False,ticks="outside",ticklen=10,tickcolor="rgba(0,0,0,0)",tickfont=TF),
    yaxis2=dict(domain=[Y(828),Y(277)],range=[0,78.7],overlaying="y",side="right",anchor="x",visible=False),
    yaxis3=dict(domain=[Y(906),Y(828)],range=[18.94,85.32],side="right",anchor="x",tickmode="array",tickvals=[40],ticktext=["40.00"],
                gridcolor=GRID,zeroline=False,ticks="outside",ticklen=10,tickcolor="rgba(0,0,0,0)",tickfont=TF),
    yaxis4=dict(domain=[Y(985),Y(906)],range=[-1.275,1.307],side="right",anchor="x",showticklabels=False,showgrid=False,zeroline=False),
    font=dict(family="DejaVu Sans"))
fig.write_html("out.html",config={"displayModeBar":False},
    post_script="document.body.style.margin='0';document.documentElement.style.overflow='hidden';")
